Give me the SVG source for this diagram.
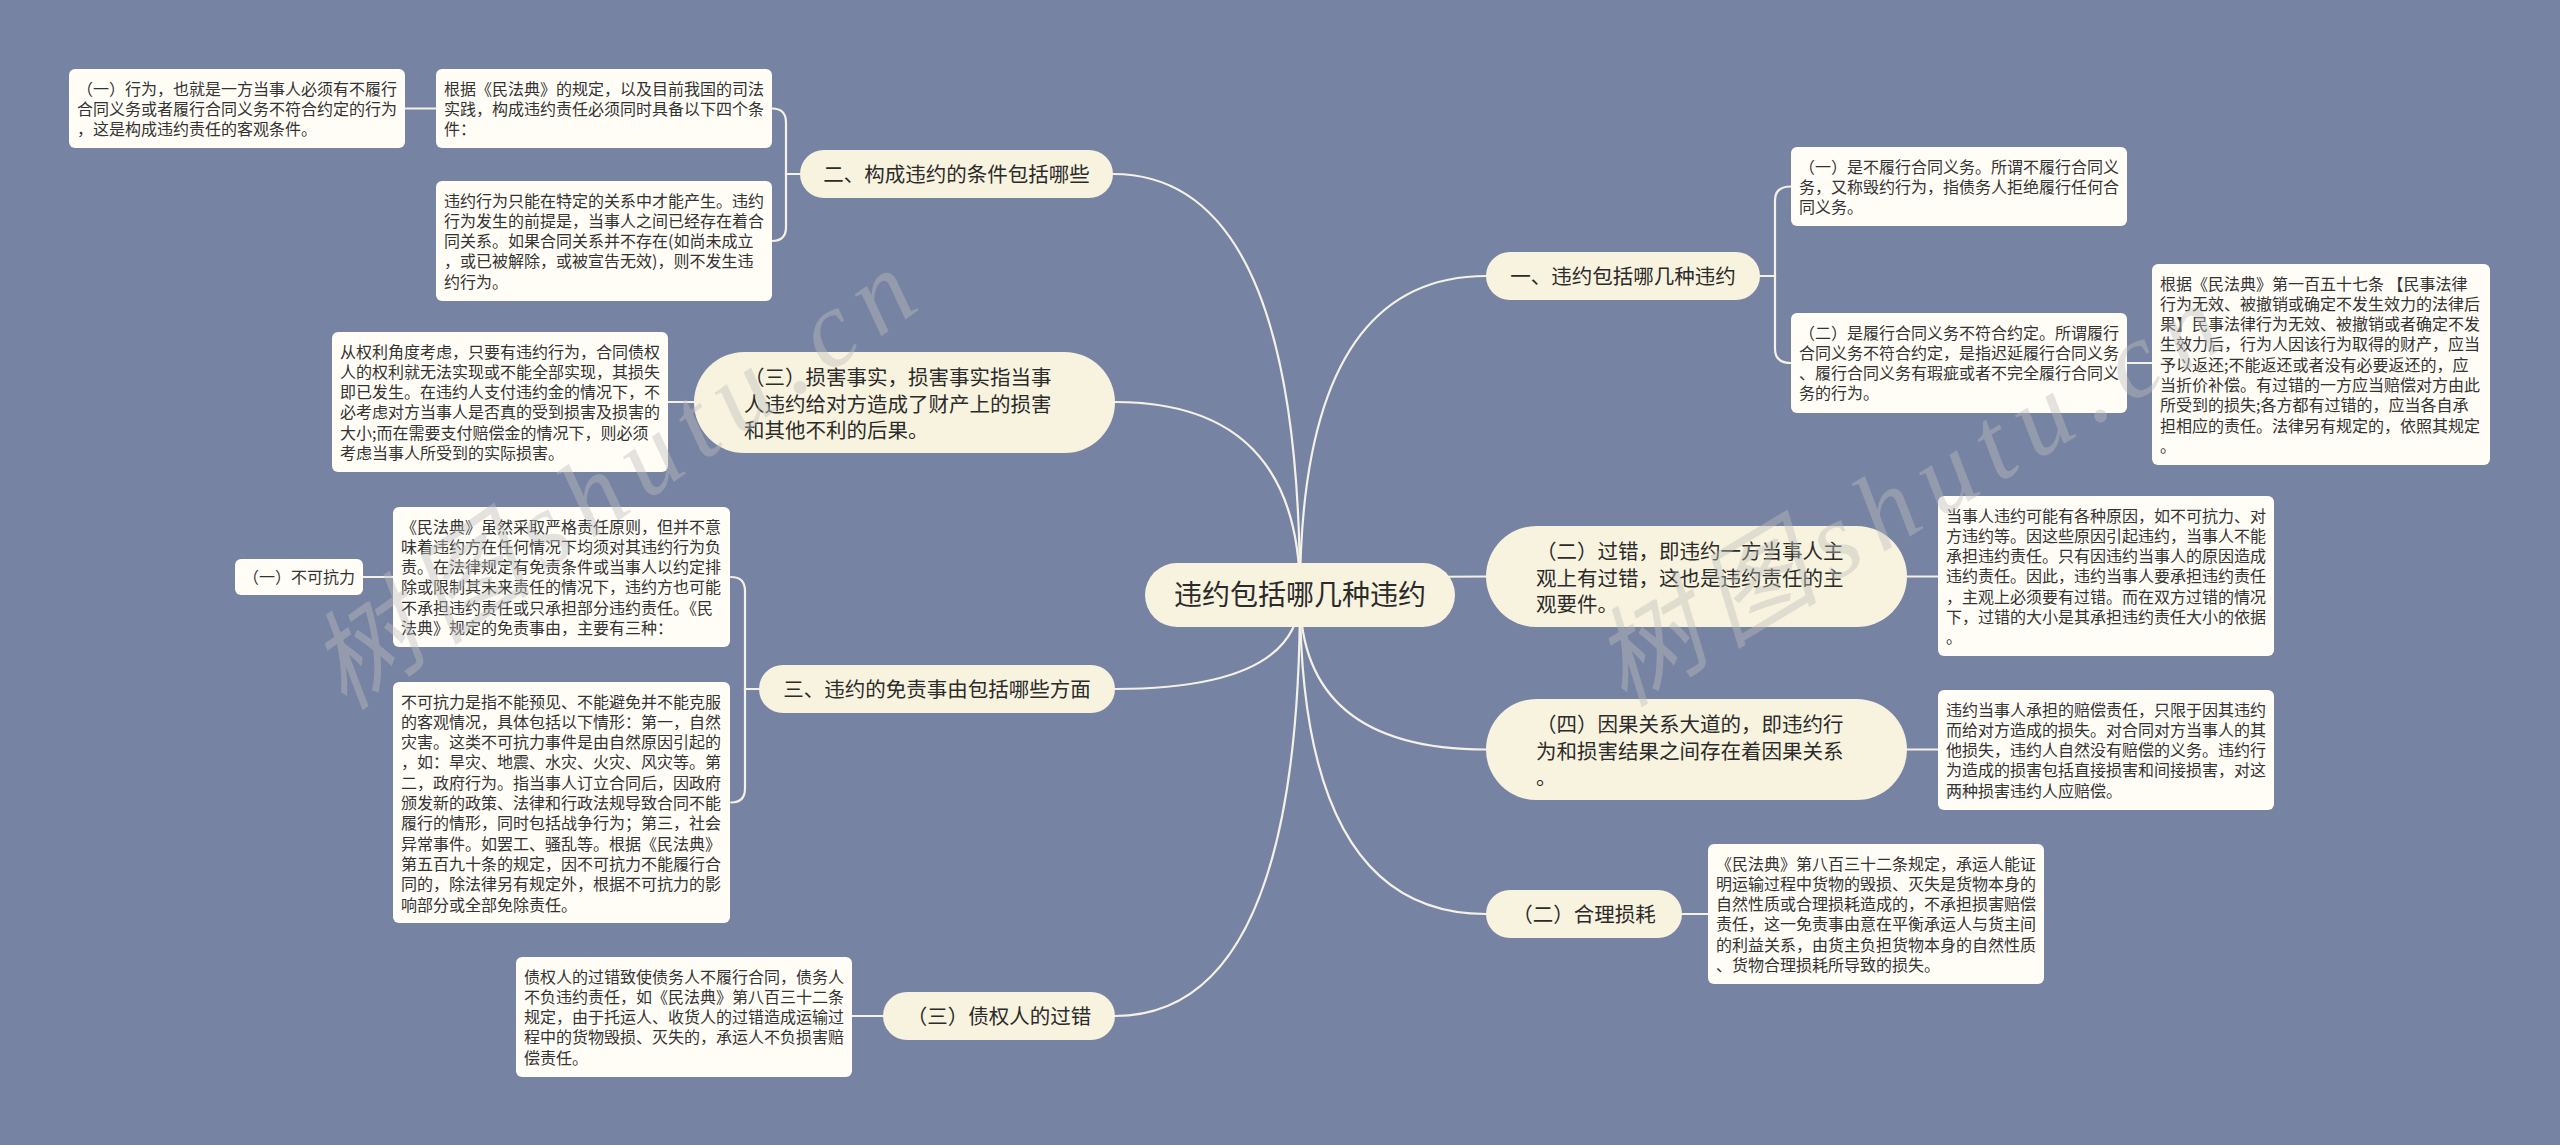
<svg xmlns="http://www.w3.org/2000/svg" width="2560" height="1145" viewBox="0 0 2560 1145">
<style>
.conn{fill:none;stroke:#f4f1e6;stroke-width:2.2;stroke-linecap:round}
.main{fill:#f8f3df}
.leaf{fill:#fffdf6}
.mt{font-family:'Noto Sans CJK SC','Noto Sans',sans-serif;font-size:20.5px;fill:#2b2b2b}
.ct{font-family:'Noto Sans CJK SC','Noto Sans',sans-serif;font-size:28px;fill:#2b2b2b}
.lt{font-family:'Noto Sans CJK SC','Noto Sans',sans-serif;font-size:16px;fill:#333333}
.wm{font-family:'Liberation Serif','Noto Sans CJK SC',serif;font-size:108px;font-style:italic;letter-spacing:14px;fill:#bdbdbd;fill-opacity:0.42}
</style>
<rect x="0" y="0" width="2560" height="1145" fill="#7783a3"/>

<g id="connectors">
<path class="conn" d="M1300,595 Q1300,174 1113,174"/>
<path class="conn" d="M1300,595 Q1300,402 1115,402"/>
<path class="conn" d="M1300,595 Q1300,689 1115,689"/>
<path class="conn" d="M1300,595 Q1300,1016 1115,1016"/>
<path class="conn" d="M1300,595 Q1300,276 1486,276"/>
<path class="conn" d="M1300,595 Q1300,576.5 1486,576.5"/>
<path class="conn" d="M1300,595 Q1300,749.5 1486,749.5"/>
<path class="conn" d="M1300,595 Q1300,914 1486,914"/>
<path class="conn" d="M800,174 H786 V122.5 Q786,108.5 772,108.5"/>
<path class="conn" d="M800,174 H786 V227 Q786,241 772,241"/>
<path class="conn" d="M436,108.5 H405"/>
<path class="conn" d="M694,402 H668"/>
<path class="conn" d="M759,689 H745 V591 Q745,577 731,577"/>
<path class="conn" d="M759,689 H745 V788.5 Q745,802.5 731,802.5"/>
<path class="conn" d="M393,577 H363"/>
<path class="conn" d="M883,1016 H852"/>
<path class="conn" d="M1760,276 H1775 V200.5 Q1775,186.5 1791,186.5"/>
<path class="conn" d="M1760,276 H1775 V349 Q1775,363 1791,363"/>
<path class="conn" d="M2127,363 H2152"/>
<path class="conn" d="M1907,576.5 H1938"/>
<path class="conn" d="M1907,749.5 H1938"/>
<path class="conn" d="M1682,914 H1708"/>
</g>

<g id="center">
<rect class="main" x="1145" y="563" width="310" height="64" rx="32"/>
<text class="ct" x="1300" y="605" text-anchor="middle">违约包括哪几种违约</text>
</g>

<g id="l1-main">
<rect class="main" x="800" y="150" width="313" height="48" rx="24"/>
<text class="mt" x="956.5" y="181.5" text-anchor="middle">二、构成违约的条件包括哪些</text>
</g>
<g id="l1-leaf-a">
<rect class="leaf" x="436" y="69" width="336" height="79" rx="6"/>
<text class="lt" x="444" y="94.5"><tspan x="444">根据《民法典》的规定，以及目前我国的司法</tspan><tspan x="444" dy="20.3">实践，构成违约责任必须同时具备以下四个条</tspan><tspan x="444" dy="20.3">件：</tspan></text>
</g>
<g id="l1-leaf-a1">
<rect class="leaf" x="69" y="69" width="336" height="79" rx="6"/>
<text class="lt" x="77" y="94.5"><tspan x="77">（一）行为，也就是一方当事人必须有不履行</tspan><tspan x="77" dy="20.3">合同义务或者履行合同义务不符合约定的行为</tspan><tspan x="77" dy="20.3">，这是构成违约责任的客观条件。</tspan></text>
</g>
<g id="l1-leaf-b">
<rect class="leaf" x="436" y="181" width="336" height="120" rx="6"/>
<text class="lt" x="444" y="206.5"><tspan x="444">违约行为只能在特定的关系中才能产生。违约</tspan><tspan x="444" dy="20.3">行为发生的前提是，当事人之间已经存在着合</tspan><tspan x="444" dy="20.3">同关系。如果合同关系并不存在(如尚未成立</tspan><tspan x="444" dy="20.3">，或已被解除，或被宣告无效)，则不发生违</tspan><tspan x="444" dy="20.3">约行为。</tspan></text>
</g>

<g id="l2-main">
<rect class="main" x="694" y="352" width="421" height="101" rx="50.5"/>
<text class="mt" x="744" y="385"><tspan x="744">（三）损害事实，损害事实指当事</tspan><tspan x="744" dy="26.7">人违约给对方造成了财产上的损害</tspan><tspan x="744" dy="26.7">和其他不利的后果。</tspan></text>
</g>
<g id="l2-leaf">
<rect class="leaf" x="332" y="332" width="336" height="140" rx="6"/>
<text class="lt" x="340" y="357.5"><tspan x="340">从权利角度考虑，只要有违约行为，合同债权</tspan><tspan x="340" dy="20.3">人的权利就无法实现或不能全部实现，其损失</tspan><tspan x="340" dy="20.3">即已发生。在违约人支付违约金的情况下，不</tspan><tspan x="340" dy="20.3">必考虑对方当事人是否真的受到损害及损害的</tspan><tspan x="340" dy="20.3">大小;而在需要支付赔偿金的情况下，则必须</tspan><tspan x="340" dy="20.3">考虑当事人所受到的实际损害。</tspan></text>
</g>

<g id="l3-main">
<rect class="main" x="759" y="665" width="356" height="48" rx="24"/>
<text class="mt" x="937" y="696.5" text-anchor="middle">三、违约的免责事由包括哪些方面</text>
</g>
<g id="l3-leaf-1">
<rect class="leaf" x="393" y="507" width="337" height="140" rx="6"/>
<text class="lt" x="401" y="532.5"><tspan x="401">《民法典》虽然采取严格责任原则，但并不意</tspan><tspan x="401" dy="20.3">味着违约方在任何情况下均须对其违约行为负</tspan><tspan x="401" dy="20.3">责。在法律规定有免责条件或当事人以约定排</tspan><tspan x="401" dy="20.3">除或限制其未来责任的情况下，违约方也可能</tspan><tspan x="401" dy="20.3">不承担违约责任或只承担部分违约责任。《民</tspan><tspan x="401" dy="20.3">法典》规定的免责事由，主要有三种：</tspan></text>
</g>
<g id="l3-leaf-1a">
<rect class="leaf" x="235" y="559" width="128" height="36" rx="6"/>
<text class="lt" x="243" y="583">（一）不可抗力</text>
</g>
<g id="l3-leaf-2">
<rect class="leaf" x="393" y="682" width="337" height="241" rx="6"/>
<text class="lt" x="401" y="707.5"><tspan x="401">不可抗力是指不能预见、不能避免并不能克服</tspan><tspan x="401" dy="20.3">的客观情况，具体包括以下情形：第一，自然</tspan><tspan x="401" dy="20.3">灾害。这类不可抗力事件是由自然原因引起的</tspan><tspan x="401" dy="20.3">，如：旱灾、地震、水灾、火灾、风灾等。第</tspan><tspan x="401" dy="20.3">二，政府行为。指当事人订立合同后，因政府</tspan><tspan x="401" dy="20.3">颁发新的政策、法律和行政法规导致合同不能</tspan><tspan x="401" dy="20.3">履行的情形，同时包括战争行为；第三，社会</tspan><tspan x="401" dy="20.3">异常事件。如罢工、骚乱等。根据《民法典》</tspan><tspan x="401" dy="20.3">第五百九十条的规定，因不可抗力不能履行合</tspan><tspan x="401" dy="20.3">同的，除法律另有规定外，根据不可抗力的影</tspan><tspan x="401" dy="20.3">响部分或全部免除责任。</tspan></text>
</g>

<g id="l4-main">
<rect class="main" x="883" y="992" width="232" height="48" rx="24"/>
<text class="mt" x="999" y="1023.5" text-anchor="middle">（三）债权人的过错</text>
</g>
<g id="l4-leaf">
<rect class="leaf" x="516" y="957" width="336" height="120" rx="6"/>
<text class="lt" x="524" y="982.5"><tspan x="524">债权人的过错致使债务人不履行合同，债务人</tspan><tspan x="524" dy="20.3">不负违约责任，如《民法典》第八百三十二条</tspan><tspan x="524" dy="20.3">规定，由于托运人、收货人的过错造成运输过</tspan><tspan x="524" dy="20.3">程中的货物毁损、灭失的，承运人不负损害赔</tspan><tspan x="524" dy="20.3">偿责任。</tspan></text>
</g>

<g id="r1-main">
<rect class="main" x="1486" y="252" width="274" height="48" rx="24"/>
<text class="mt" x="1623" y="283.5" text-anchor="middle">一、违约包括哪几种违约</text>
</g>
<g id="r1-leaf-1">
<rect class="leaf" x="1791" y="147" width="336" height="79" rx="6"/>
<text class="lt" x="1799" y="172.5"><tspan x="1799">（一）是不履行合同义务。所谓不履行合同义</tspan><tspan x="1799" dy="20.3">务，又称毁约行为，指债务人拒绝履行任何合</tspan><tspan x="1799" dy="20.3">同义务。</tspan></text>
</g>
<g id="r1-leaf-2">
<rect class="leaf" x="1791" y="313" width="336" height="100" rx="6"/>
<text class="lt" x="1799" y="338.5"><tspan x="1799">（二）是履行合同义务不符合约定。所谓履行</tspan><tspan x="1799" dy="20.3">合同义务不符合约定，是指迟延履行合同义务</tspan><tspan x="1799" dy="20.3">、履行合同义务有瑕疵或者不完全履行合同义</tspan><tspan x="1799" dy="20.3">务的行为。</tspan></text>
</g>
<g id="r1-leaf-2a">
<rect class="leaf" x="2152" y="264" width="338" height="201" rx="6"/>
<text class="lt" x="2160" y="289.5"><tspan x="2160">根据《民法典》第一百五十七条 【民事法律</tspan><tspan x="2160" dy="20.3">行为无效、被撤销或确定不发生效力的法律后</tspan><tspan x="2160" dy="20.3">果】民事法律行为无效、被撤销或者确定不发</tspan><tspan x="2160" dy="20.3">生效力后，行为人因该行为取得的财产，应当</tspan><tspan x="2160" dy="20.3">予以返还;不能返还或者没有必要返还的，应</tspan><tspan x="2160" dy="20.3">当折价补偿。有过错的一方应当赔偿对方由此</tspan><tspan x="2160" dy="20.3">所受到的损失;各方都有过错的，应当各自承</tspan><tspan x="2160" dy="20.3">担相应的责任。法律另有规定的，依照其规定</tspan><tspan x="2160" dy="20.3">。</tspan></text>
</g>

<g id="r2-main">
<rect class="main" x="1486" y="526" width="421" height="101" rx="50.5"/>
<text class="mt" x="1536" y="559"><tspan x="1536">（二）过错，即违约一方当事人主</tspan><tspan x="1536" dy="26.7">观上有过错，这也是违约责任的主</tspan><tspan x="1536" dy="26.7">观要件。</tspan></text>
</g>
<g id="r2-leaf">
<rect class="leaf" x="1938" y="496" width="336" height="160" rx="6"/>
<text class="lt" x="1946" y="521.5"><tspan x="1946">当事人违约可能有各种原因，如不可抗力、对</tspan><tspan x="1946" dy="20.3">方违约等。因这些原因引起违约，当事人不能</tspan><tspan x="1946" dy="20.3">承担违约责任。只有因违约当事人的原因造成</tspan><tspan x="1946" dy="20.3">违约责任。因此，违约当事人要承担违约责任</tspan><tspan x="1946" dy="20.3">，主观上必须要有过错。而在双方过错的情况</tspan><tspan x="1946" dy="20.3">下，过错的大小是其承担违约责任大小的依据</tspan><tspan x="1946" dy="20.3">。</tspan></text>
</g>

<g id="r3-main">
<rect class="main" x="1486" y="699" width="421" height="101" rx="50.5"/>
<text class="mt" x="1536" y="732"><tspan x="1536">（四）因果关系大道的，即违约行</tspan><tspan x="1536" dy="26.7">为和损害结果之间存在着因果关系</tspan><tspan x="1536" dy="26.7">。</tspan></text>
</g>
<g id="r3-leaf">
<rect class="leaf" x="1938" y="690" width="336" height="120" rx="6"/>
<text class="lt" x="1946" y="715.5"><tspan x="1946">违约当事人承担的赔偿责任，只限于因其违约</tspan><tspan x="1946" dy="20.3">而给对方造成的损失。对合同对方当事人的其</tspan><tspan x="1946" dy="20.3">他损失，违约人自然没有赔偿的义务。违约行</tspan><tspan x="1946" dy="20.3">为造成的损害包括直接损害和间接损害，对这</tspan><tspan x="1946" dy="20.3">两种损害违约人应赔偿。</tspan></text>
</g>

<g id="r4-main">
<rect class="main" x="1486" y="890" width="196" height="48" rx="24"/>
<text class="mt" x="1584" y="921.5" text-anchor="middle">（二）合理损耗</text>
</g>
<g id="r4-leaf">
<rect class="leaf" x="1708" y="844" width="336" height="140" rx="6"/>
<text class="lt" x="1716" y="869.5"><tspan x="1716">《民法典》第八百三十二条规定，承运人能证</tspan><tspan x="1716" dy="20.3">明运输过程中货物的毁损、灭失是货物本身的</tspan><tspan x="1716" dy="20.3">自然性质或合理损耗造成的，不承担损害赔偿</tspan><tspan x="1716" dy="20.3">责任，这一免责事由意在平衡承运人与货主间</tspan><tspan x="1716" dy="20.3">的利益关系，由货主负担货物本身的自然性质</tspan><tspan x="1716" dy="20.3">、货物合理损耗所导致的损失。</tspan></text>
</g>

<g id="watermarks">
<text class="wm" x="345" y="712" transform="rotate(-35 345 712)">树图shutu.cn</text>
<text class="wm" x="1624" y="708" transform="rotate(-31 1624 708)">树图shutu.cn</text>
</g>
</svg>
